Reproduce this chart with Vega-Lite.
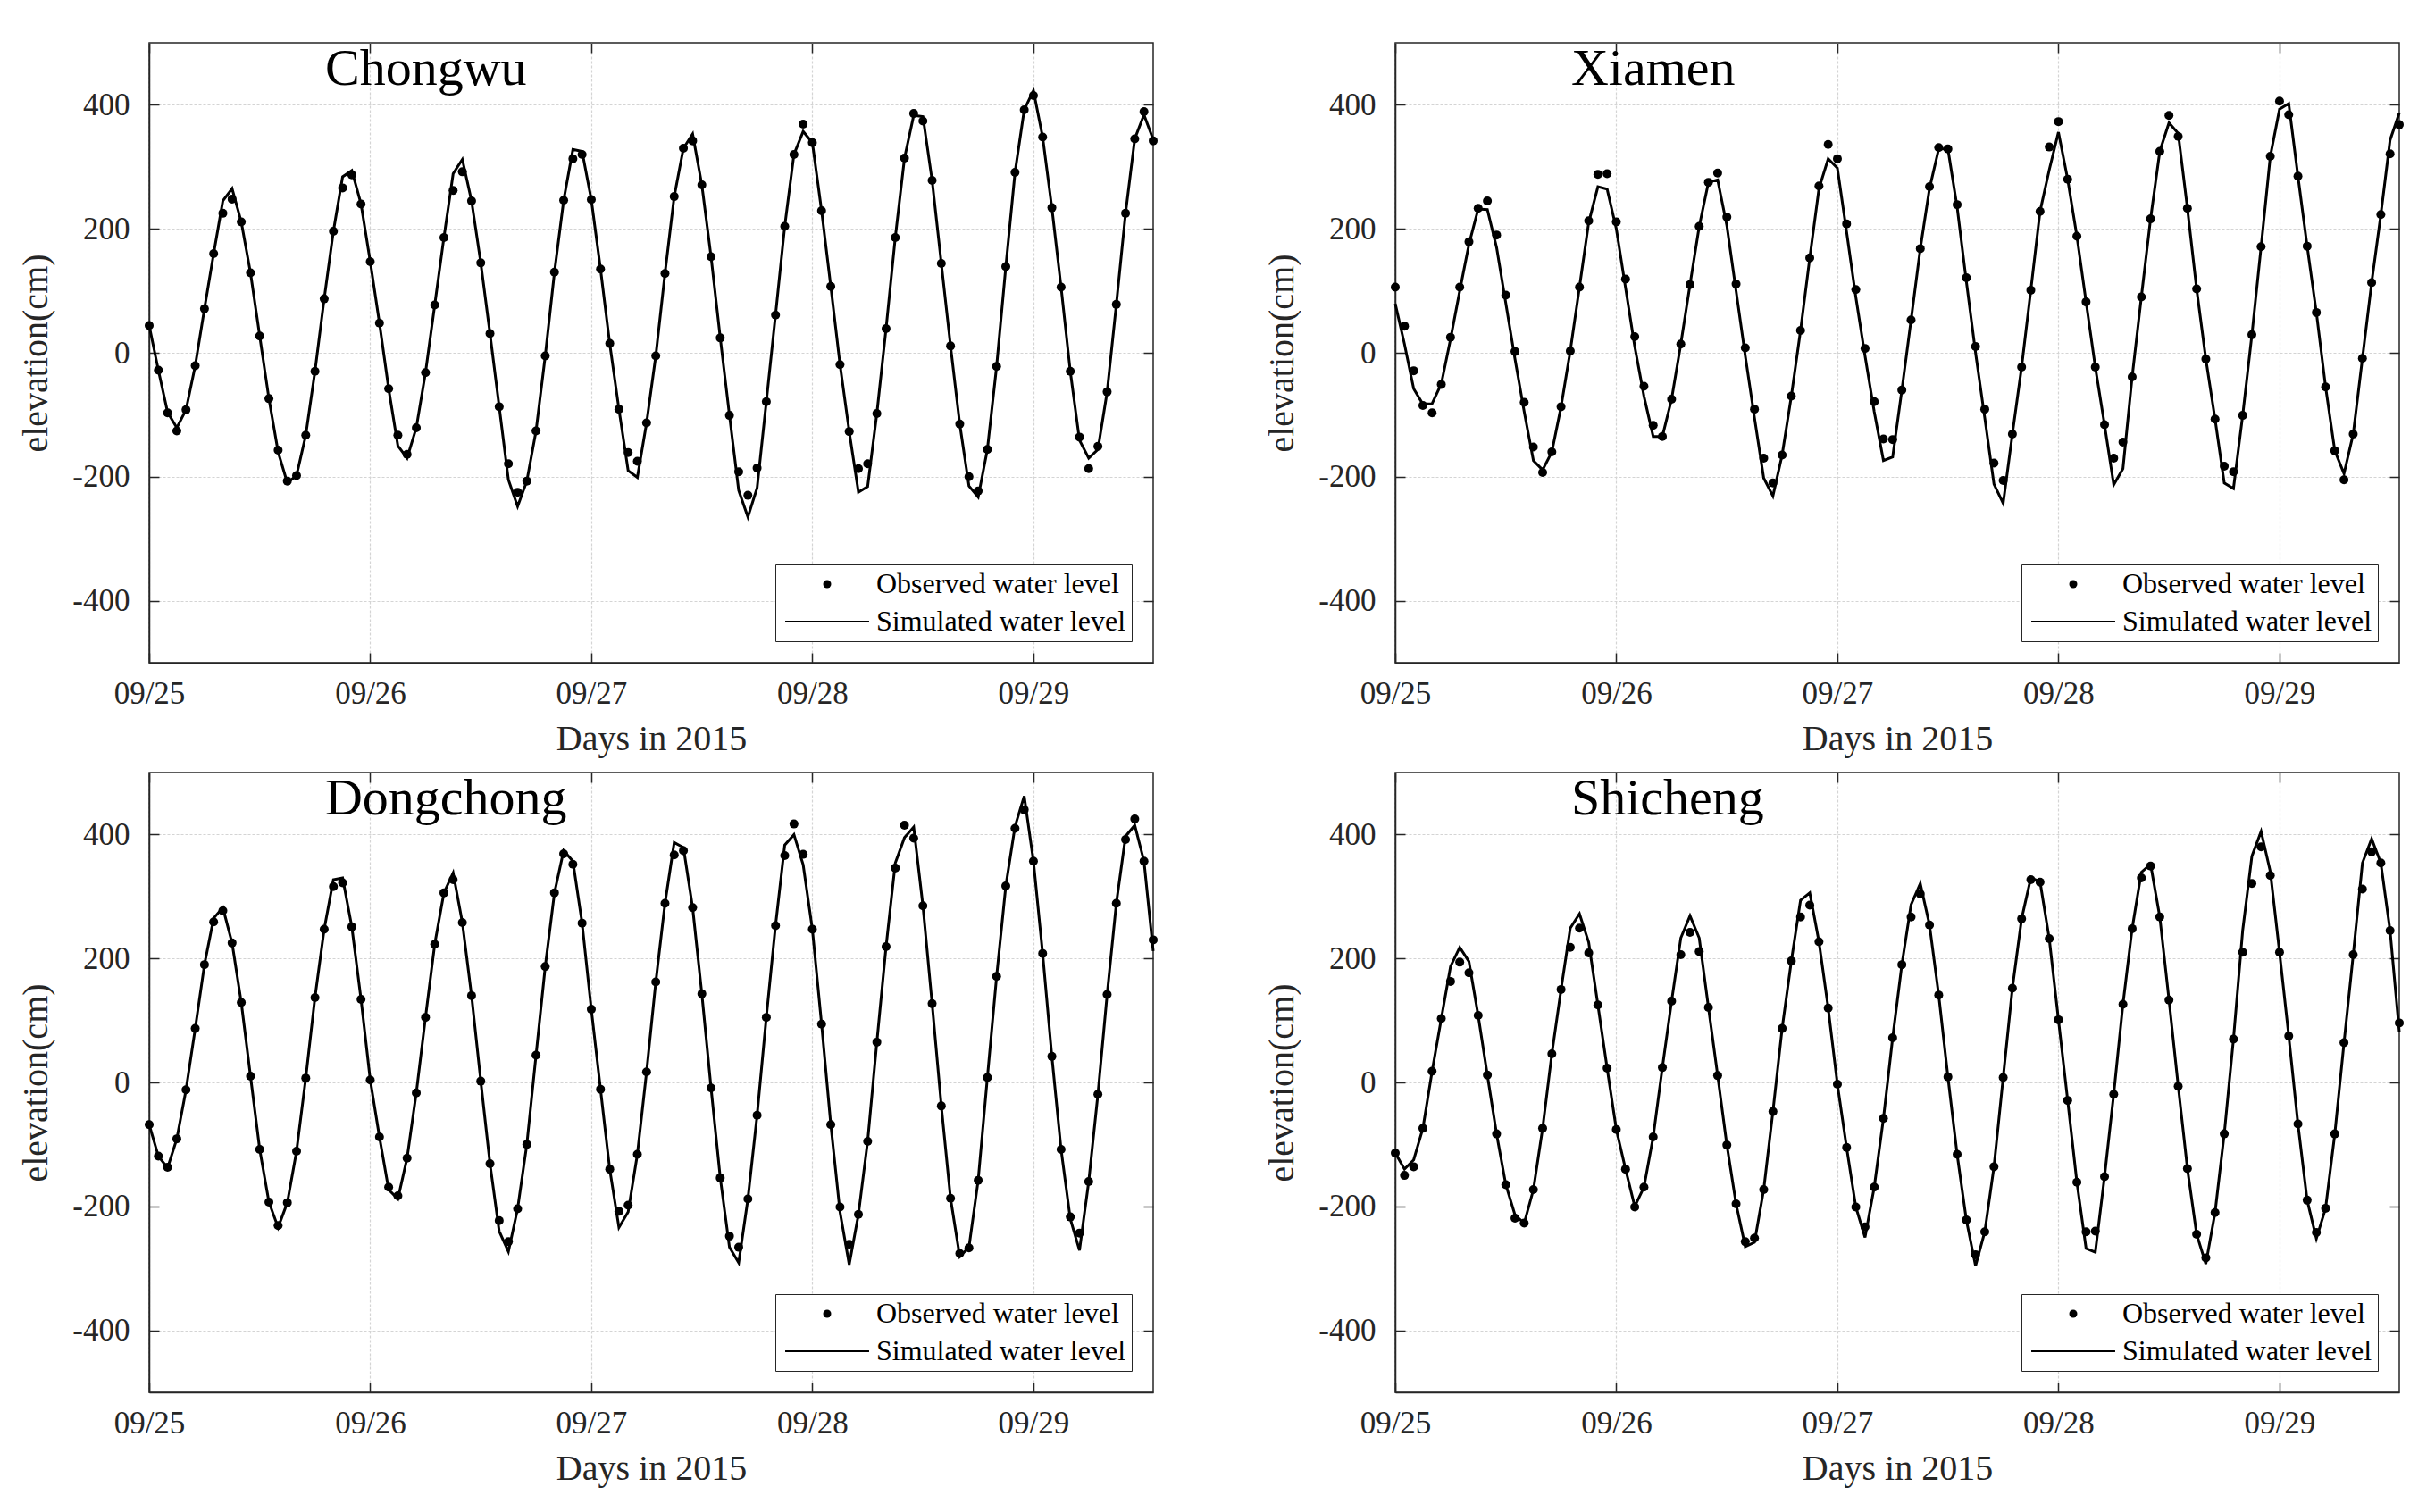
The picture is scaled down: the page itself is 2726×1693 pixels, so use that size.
{
"$schema":"https://vega.github.io/schema/vega-lite/v6.json",
"autosize":{"type":"pad"},
"padding":{"left":20,"top":46,"right":5,"bottom":5},
"background":"white",
"columns":2,
"spacing":{"row":123,"column":271},
"bounds":"flush",
"resolve":{"scale":{"shape":"independent"},"legend":{"shape":"independent"}},
"datasets":{
"Chongwu":[
{"t":"2015-09-25T00","o":44,"m":44},{"t":"2015-09-25T01","o":-28,"m":-28},{"t":"2015-09-25T02","o":-97,"m":-96},{"t":"2015-09-25T03","o":-126,"m":-121},{"t":"2015-09-25T04","o":-92,"m":-92},{"t":"2015-09-25T05","o":-21,"m":-21},{"t":"2015-09-25T06","o":71,"m":71},{"t":"2015-09-25T07","o":160,"m":160},{"t":"2015-09-25T08","o":225,"m":245},{"t":"2015-09-25T09","o":248,"m":265},{"t":"2015-09-25T10","o":211,"m":211},{"t":"2015-09-25T11","o":129,"m":129},{"t":"2015-09-25T12","o":27,"m":27},{"t":"2015-09-25T13","o":-74,"m":-74},{"t":"2015-09-25T14","o":-157,"m":-160},{"t":"2015-09-25T15","o":-207,"m":-210},{"t":"2015-09-25T16","o":-198,"m":-198},{"t":"2015-09-25T17","o":-133,"m":-133},{"t":"2015-09-25T18","o":-30,"m":-30},{"t":"2015-09-25T19","o":87,"m":87},{"t":"2015-09-25T20","o":196,"m":196},{"t":"2015-09-25T21","o":266,"m":284},{"t":"2015-09-25T22","o":287,"m":294},{"t":"2015-09-25T23","o":240,"m":240},
{"t":"2015-09-26T00","o":147,"m":147},{"t":"2015-09-26T01","o":48,"m":48},{"t":"2015-09-26T02","o":-58,"m":-58},{"t":"2015-09-26T03","o":-133,"m":-150},{"t":"2015-09-26T04","o":-164,"m":-170},{"t":"2015-09-26T05","o":-121,"m":-121},{"t":"2015-09-26T06","o":-32,"m":-32},{"t":"2015-09-26T07","o":77,"m":77},{"t":"2015-09-26T08","o":186,"m":186},{"t":"2015-09-26T09","o":262,"m":289},{"t":"2015-09-26T10","o":292,"m":312},{"t":"2015-09-26T11","o":245,"m":245},{"t":"2015-09-26T12","o":145,"m":145},{"t":"2015-09-26T13","o":31,"m":31},{"t":"2015-09-26T14","o":-87,"m":-87},{"t":"2015-09-26T15","o":-179,"m":-205},{"t":"2015-09-26T16","o":-225,"m":-248},{"t":"2015-09-26T17","o":-207,"m":-207},{"t":"2015-09-26T18","o":-126,"m":-126},{"t":"2015-09-26T19","o":-5,"m":-5},{"t":"2015-09-26T20","o":130,"m":130},{"t":"2015-09-26T21","o":246,"m":246},{"t":"2015-09-26T22","o":313,"m":328},{"t":"2015-09-26T23","o":320,"m":325},
{"t":"2015-09-27T00","o":247,"m":247},{"t":"2015-09-27T01","o":135,"m":135},{"t":"2015-09-27T02","o":15,"m":15},{"t":"2015-09-27T03","o":-91,"m":-91},{"t":"2015-09-27T04","o":-161,"m":-190},{"t":"2015-09-27T05","o":-175,"m":-201},{"t":"2015-09-27T06","o":-113,"m":-113},{"t":"2015-09-27T07","o":-5,"m":-5},{"t":"2015-09-27T08","o":128,"m":128},{"t":"2015-09-27T09","o":252,"m":252},{"t":"2015-09-27T10","o":330,"m":330},{"t":"2015-09-27T11","o":342,"m":353},{"t":"2015-09-27T12","o":271,"m":271},{"t":"2015-09-27T13","o":155,"m":155},{"t":"2015-09-27T14","o":24,"m":24},{"t":"2015-09-27T15","o":-101,"m":-101},{"t":"2015-09-27T16","o":-192,"m":-222},{"t":"2015-09-27T17","o":-230,"m":-265},{"t":"2015-09-27T18","o":-186,"m":-218},{"t":"2015-09-27T19","o":-79,"m":-79},{"t":"2015-09-27T20","o":61,"m":61},{"t":"2015-09-27T21","o":204,"m":204},{"t":"2015-09-27T22","o":320,"m":320},{"t":"2015-09-27T23","o":369,"m":357},
{"t":"2015-09-28T00","o":339,"m":339},{"t":"2015-09-28T01","o":229,"m":229},{"t":"2015-09-28T02","o":107,"m":107},{"t":"2015-09-28T03","o":-19,"m":-19},{"t":"2015-09-28T04","o":-127,"m":-127},{"t":"2015-09-28T05","o":-187,"m":-225},{"t":"2015-09-28T06","o":-179,"m":-216},{"t":"2015-09-28T07","o":-98,"m":-98},{"t":"2015-09-28T08","o":39,"m":39},{"t":"2015-09-28T09","o":186,"m":186},{"t":"2015-09-28T10","o":314,"m":314},{"t":"2015-09-28T11","o":386,"m":383},{"t":"2015-09-28T12","o":374,"m":381},{"t":"2015-09-28T13","o":278,"m":278},{"t":"2015-09-28T14","o":144,"m":144},{"t":"2015-09-28T15","o":11,"m":11},{"t":"2015-09-28T16","o":-115,"m":-115},{"t":"2015-09-28T17","o":-200,"m":-215},{"t":"2015-09-28T18","o":-223,"m":-233},{"t":"2015-09-28T19","o":-156,"m":-156},{"t":"2015-09-28T20","o":-22,"m":-22},{"t":"2015-09-28T21","o":139,"m":139},{"t":"2015-09-28T22","o":291,"m":291},{"t":"2015-09-28T23","o":392,"m":392},
{"t":"2015-09-29T00","o":415,"m":423},{"t":"2015-09-29T01","o":348,"m":348},{"t":"2015-09-29T02","o":234,"m":234},{"t":"2015-09-29T03","o":106,"m":106},{"t":"2015-09-29T04","o":-30,"m":-30},{"t":"2015-09-29T05","o":-136,"m":-141},{"t":"2015-09-29T06","o":-187,"m":-170},{"t":"2015-09-29T07","o":-151,"m":-156},{"t":"2015-09-29T08","o":-63,"m":-63},{"t":"2015-09-29T09","o":78,"m":78},{"t":"2015-09-29T10","o":225,"m":225},{"t":"2015-09-29T11","o":345,"m":345},{"t":"2015-09-29T12","o":389,"m":384},{"t":"2015-09-29T13","o":342,"m":344}
],
"Xiamen":[
{"t":"2015-09-25T00","o":106,"m":79},{"t":"2015-09-25T01","o":43,"m":14},{"t":"2015-09-25T02","o":-29,"m":-58},{"t":"2015-09-25T03","o":-85,"m":-83},{"t":"2015-09-25T04","o":-97,"m":-82},{"t":"2015-09-25T05","o":-51,"m":-50},{"t":"2015-09-25T06","o":25,"m":22},{"t":"2015-09-25T07","o":106,"m":100},{"t":"2015-09-25T08","o":179,"m":175},{"t":"2015-09-25T09","o":233,"m":232},{"t":"2015-09-25T10","o":245,"m":231},{"t":"2015-09-25T11","o":190,"m":170},{"t":"2015-09-25T12","o":93,"m":80},{"t":"2015-09-25T13","o":2,"m":-10},{"t":"2015-09-25T14","o":-80,"m":-95},{"t":"2015-09-25T15","o":-152,"m":-174},{"t":"2015-09-25T16","o":-193,"m":-189},{"t":"2015-09-25T17","o":-160,"m":-160},{"t":"2015-09-25T18","o":-87,"m":-87},{"t":"2015-09-25T19","o":3,"m":3},{"t":"2015-09-25T20","o":106,"m":106},{"t":"2015-09-25T21","o":213,"m":210},{"t":"2015-09-25T22","o":288,"m":268},{"t":"2015-09-25T23","o":289,"m":264},
{"t":"2015-09-26T00","o":211,"m":200},{"t":"2015-09-26T01","o":119,"m":105},{"t":"2015-09-26T02","o":26,"m":10},{"t":"2015-09-26T03","o":-54,"m":-70},{"t":"2015-09-26T04","o":-117,"m":-135},{"t":"2015-09-26T05","o":-135,"m":-135},{"t":"2015-09-26T06","o":-75,"m":-75},{"t":"2015-09-26T07","o":14,"m":14},{"t":"2015-09-26T08","o":110,"m":110},{"t":"2015-09-26T09","o":204,"m":204},{"t":"2015-09-26T10","o":275,"m":275},{"t":"2015-09-26T11","o":290,"m":279},{"t":"2015-09-26T12","o":219,"m":205},{"t":"2015-09-26T13","o":111,"m":100},{"t":"2015-09-26T14","o":8,"m":-5},{"t":"2015-09-26T15","o":-91,"m":-105},{"t":"2015-09-26T16","o":-170,"m":-202},{"t":"2015-09-26T17","o":-210,"m":-231},{"t":"2015-09-26T18","o":-165,"m":-165},{"t":"2015-09-26T19","o":-70,"m":-70},{"t":"2015-09-26T20","o":36,"m":36},{"t":"2015-09-26T21","o":153,"m":153},{"t":"2015-09-26T22","o":269,"m":265},{"t":"2015-09-26T23","o":336,"m":313},
{"t":"2015-09-27T00","o":313,"m":298},{"t":"2015-09-27T01","o":208,"m":195},{"t":"2015-09-27T02","o":102,"m":90},{"t":"2015-09-27T03","o":7,"m":-5},{"t":"2015-09-27T04","o":-79,"m":-95},{"t":"2015-09-27T05","o":-139,"m":-174},{"t":"2015-09-27T06","o":-140,"m":-168},{"t":"2015-09-27T07","o":-60,"m":-60},{"t":"2015-09-27T08","o":53,"m":53},{"t":"2015-09-27T09","o":168,"m":168},{"t":"2015-09-27T10","o":268,"m":265},{"t":"2015-09-27T11","o":331,"m":329},{"t":"2015-09-27T12","o":329,"m":329},{"t":"2015-09-27T13","o":239,"m":235},{"t":"2015-09-27T14","o":121,"m":115},{"t":"2015-09-27T15","o":10,"m":0},{"t":"2015-09-27T16","o":-91,"m":-105},{"t":"2015-09-27T17","o":-178,"m":-212},{"t":"2015-09-27T18","o":-206,"m":-243},{"t":"2015-09-27T19","o":-131,"m":-131},{"t":"2015-09-27T20","o":-23,"m":-23},{"t":"2015-09-27T21","o":101,"m":101},{"t":"2015-09-27T22","o":228,"m":228},{"t":"2015-09-27T23","o":332,"m":295},
{"t":"2015-09-28T00","o":373,"m":356},{"t":"2015-09-28T01","o":280,"m":280},{"t":"2015-09-28T02","o":188,"m":188},{"t":"2015-09-28T03","o":82,"m":82},{"t":"2015-09-28T04","o":-23,"m":-23},{"t":"2015-09-28T05","o":-116,"m":-116},{"t":"2015-09-28T06","o":-170,"m":-213},{"t":"2015-09-28T07","o":-144,"m":-187},{"t":"2015-09-28T08","o":-39,"m":-39},{"t":"2015-09-28T09","o":90,"m":90},{"t":"2015-09-28T10","o":216,"m":216},{"t":"2015-09-28T11","o":325,"m":325},{"t":"2015-09-28T12","o":383,"m":371},{"t":"2015-09-28T13","o":349,"m":354},{"t":"2015-09-28T14","o":233,"m":233},{"t":"2015-09-28T15","o":103,"m":103},{"t":"2015-09-28T16","o":-10,"m":-10},{"t":"2015-09-28T17","o":-107,"m":-107},{"t":"2015-09-28T18","o":-183,"m":-210},{"t":"2015-09-28T19","o":-192,"m":-219},{"t":"2015-09-28T20","o":-101,"m":-101},{"t":"2015-09-28T21","o":29,"m":29},{"t":"2015-09-28T22","o":171,"m":171},{"t":"2015-09-28T23","o":317,"m":317},
{"t":"2015-09-29T00","o":406,"m":393},{"t":"2015-09-29T01","o":384,"m":402},{"t":"2015-09-29T02","o":285,"m":285},{"t":"2015-09-29T03","o":172,"m":172},{"t":"2015-09-29T04","o":65,"m":65},{"t":"2015-09-29T05","o":-55,"m":-55},{"t":"2015-09-29T06","o":-158,"m":-158},{"t":"2015-09-29T07","o":-205,"m":-195},{"t":"2015-09-29T08","o":-131,"m":-131},{"t":"2015-09-29T09","o":-9,"m":-9},{"t":"2015-09-29T10","o":113,"m":113},{"t":"2015-09-29T11","o":223,"m":223},{"t":"2015-09-29T12","o":321,"m":343},{"t":"2015-09-29T13","o":368,"m":387}
],
"Dongchong":[
{"t":"2015-09-25T00","o":-68,"m":-68},{"t":"2015-09-25T01","o":-119,"m":-119},{"t":"2015-09-25T02","o":-137,"m":-138},{"t":"2015-09-25T03","o":-91,"m":-91},{"t":"2015-09-25T04","o":-12,"m":-12},{"t":"2015-09-25T05","o":87,"m":87},{"t":"2015-09-25T06","o":190,"m":190},{"t":"2015-09-25T07","o":259,"m":265},{"t":"2015-09-25T08","o":277,"m":282},{"t":"2015-09-25T09","o":225,"m":225},{"t":"2015-09-25T10","o":129,"m":129},{"t":"2015-09-25T11","o":10,"m":10},{"t":"2015-09-25T12","o":-108,"m":-108},{"t":"2015-09-25T13","o":-193,"m":-193},{"t":"2015-09-25T14","o":-231,"m":-234},{"t":"2015-09-25T15","o":-194,"m":-194},{"t":"2015-09-25T16","o":-111,"m":-111},{"t":"2015-09-25T17","o":7,"m":7},{"t":"2015-09-25T18","o":137,"m":137},{"t":"2015-09-25T19","o":247,"m":247},{"t":"2015-09-25T20","o":316,"m":327},{"t":"2015-09-25T21","o":322,"m":330},{"t":"2015-09-25T22","o":251,"m":251},{"t":"2015-09-25T23","o":134,"m":134},
{"t":"2015-09-26T00","o":4,"m":4},{"t":"2015-09-26T01","o":-88,"m":-88},{"t":"2015-09-26T02","o":-169,"m":-173},{"t":"2015-09-26T03","o":-183,"m":-188},{"t":"2015-09-26T04","o":-122,"m":-122},{"t":"2015-09-26T05","o":-17,"m":-17},{"t":"2015-09-26T06","o":105,"m":105},{"t":"2015-09-26T07","o":223,"m":223},{"t":"2015-09-26T08","o":306,"m":306},{"t":"2015-09-26T09","o":327,"m":338},{"t":"2015-09-26T10","o":258,"m":258},{"t":"2015-09-26T11","o":140,"m":140},{"t":"2015-09-26T12","o":2,"m":2},{"t":"2015-09-26T13","o":-131,"m":-131},{"t":"2015-09-26T14","o":-223,"m":-240},{"t":"2015-09-26T15","o":-257,"m":-273},{"t":"2015-09-26T16","o":-204,"m":-204},{"t":"2015-09-26T17","o":-100,"m":-100},{"t":"2015-09-26T18","o":44,"m":44},{"t":"2015-09-26T19","o":187,"m":187},{"t":"2015-09-26T20","o":306,"m":306},{"t":"2015-09-26T21","o":369,"m":374},{"t":"2015-09-26T22","o":352,"m":357},{"t":"2015-09-26T23","o":257,"m":257},
{"t":"2015-09-27T00","o":118,"m":118},{"t":"2015-09-27T01","o":-11,"m":-11},{"t":"2015-09-27T02","o":-140,"m":-140},{"t":"2015-09-27T03","o":-208,"m":-234},{"t":"2015-09-27T04","o":-198,"m":-209},{"t":"2015-09-27T05","o":-116,"m":-116},{"t":"2015-09-27T06","o":17,"m":17},{"t":"2015-09-27T07","o":162,"m":162},{"t":"2015-09-27T08","o":289,"m":289},{"t":"2015-09-27T09","o":367,"m":387},{"t":"2015-09-27T10","o":374,"m":379},{"t":"2015-09-27T11","o":282,"m":282},{"t":"2015-09-27T12","o":143,"m":143},{"t":"2015-09-27T13","o":-9,"m":-9},{"t":"2015-09-27T14","o":-154,"m":-154},{"t":"2015-09-27T15","o":-248,"m":-266},{"t":"2015-09-27T16","o":-266,"m":-291},{"t":"2015-09-27T17","o":-188,"m":-188},{"t":"2015-09-27T18","o":-53,"m":-53},{"t":"2015-09-27T19","o":105,"m":105},{"t":"2015-09-27T20","o":253,"m":253},{"t":"2015-09-27T21","o":366,"m":383},{"t":"2015-09-27T22","o":417,"m":400},{"t":"2015-09-27T23","o":368,"m":351},
{"t":"2015-09-28T00","o":247,"m":247},{"t":"2015-09-28T01","o":94,"m":94},{"t":"2015-09-28T02","o":-68,"m":-68},{"t":"2015-09-28T03","o":-201,"m":-209},{"t":"2015-09-28T04","o":-261,"m":-294},{"t":"2015-09-28T05","o":-213,"m":-213},{"t":"2015-09-28T06","o":-95,"m":-95},{"t":"2015-09-28T07","o":65,"m":65},{"t":"2015-09-28T08","o":219,"m":219},{"t":"2015-09-28T09","o":346,"m":354},{"t":"2015-09-28T10","o":415,"m":395},{"t":"2015-09-28T11","o":394,"m":412},{"t":"2015-09-28T12","o":285,"m":285},{"t":"2015-09-28T13","o":127,"m":127},{"t":"2015-09-28T14","o":-38,"m":-38},{"t":"2015-09-28T15","o":-187,"m":-187},{"t":"2015-09-28T16","o":-276,"m":-281},{"t":"2015-09-28T17","o":-267,"m":-266},{"t":"2015-09-28T18","o":-158,"m":-158},{"t":"2015-09-28T19","o":8,"m":8},{"t":"2015-09-28T20","o":171,"m":171},{"t":"2015-09-28T21","o":317,"m":317},{"t":"2015-09-28T22","o":410,"m":413},{"t":"2015-09-28T23","o":440,"m":462},
{"t":"2015-09-29T00","o":357,"m":357},{"t":"2015-09-29T01","o":208,"m":208},{"t":"2015-09-29T02","o":42,"m":42},{"t":"2015-09-29T03","o":-108,"m":-108},{"t":"2015-09-29T04","o":-217,"m":-220},{"t":"2015-09-29T05","o":-243,"m":-271},{"t":"2015-09-29T06","o":-160,"m":-160},{"t":"2015-09-29T07","o":-19,"m":-19},{"t":"2015-09-29T08","o":142,"m":142},{"t":"2015-09-29T09","o":289,"m":289},{"t":"2015-09-29T10","o":392,"m":397},{"t":"2015-09-29T11","o":425,"m":415},{"t":"2015-09-29T12","o":357,"m":357},{"t":"2015-09-29T13","o":230,"m":212}
],
"Shicheng":[
{"t":"2015-09-25T00","o":-114,"m":-114},{"t":"2015-09-25T01","o":-150,"m":-140},{"t":"2015-09-25T02","o":-136,"m":-125},{"t":"2015-09-25T03","o":-74,"m":-74},{"t":"2015-09-25T04","o":18,"m":18},{"t":"2015-09-25T05","o":103,"m":103},{"t":"2015-09-25T06","o":163,"m":187},{"t":"2015-09-25T07","o":194,"m":218},{"t":"2015-09-25T08","o":177,"m":195},{"t":"2015-09-25T09","o":108,"m":108},{"t":"2015-09-25T10","o":12,"m":12},{"t":"2015-09-25T11","o":-83,"m":-83},{"t":"2015-09-25T12","o":-165,"m":-165},{"t":"2015-09-25T13","o":-219,"m":-214},{"t":"2015-09-25T14","o":-227,"m":-227},{"t":"2015-09-25T15","o":-173,"m":-173},{"t":"2015-09-25T16","o":-74,"m":-74},{"t":"2015-09-25T17","o":46,"m":46},{"t":"2015-09-25T18","o":150,"m":150},{"t":"2015-09-25T19","o":218,"m":249},{"t":"2015-09-25T20","o":249,"m":272},{"t":"2015-09-25T21","o":209,"m":226},{"t":"2015-09-25T22","o":125,"m":125},{"t":"2015-09-25T23","o":23,"m":23},
{"t":"2015-09-26T00","o":-76,"m":-76},{"t":"2015-09-26T01","o":-140,"m":-140},{"t":"2015-09-26T02","o":-201,"m":-200},{"t":"2015-09-26T03","o":-169,"m":-169},{"t":"2015-09-26T04","o":-88,"m":-88},{"t":"2015-09-26T05","o":24,"m":24},{"t":"2015-09-26T06","o":131,"m":131},{"t":"2015-09-26T07","o":206,"m":233},{"t":"2015-09-26T08","o":242,"m":269},{"t":"2015-09-26T09","o":211,"m":233},{"t":"2015-09-26T10","o":121,"m":121},{"t":"2015-09-26T11","o":11,"m":11},{"t":"2015-09-26T12","o":-101,"m":-101},{"t":"2015-09-26T13","o":-196,"m":-196},{"t":"2015-09-26T14","o":-257,"m":-265},{"t":"2015-09-26T15","o":-251,"m":-258},{"t":"2015-09-26T16","o":-173,"m":-173},{"t":"2015-09-26T17","o":-47,"m":-47},{"t":"2015-09-26T18","o":87,"m":87},{"t":"2015-09-26T19","o":196,"m":196},{"t":"2015-09-26T20","o":267,"m":294},{"t":"2015-09-26T21","o":286,"m":306},{"t":"2015-09-26T22","o":227,"m":227},{"t":"2015-09-26T23","o":120,"m":120},
{"t":"2015-09-27T00","o":-3,"m":-3},{"t":"2015-09-27T01","o":-105,"m":-105},{"t":"2015-09-27T02","o":-201,"m":-201},{"t":"2015-09-27T03","o":-233,"m":-250},{"t":"2015-09-27T04","o":-169,"m":-169},{"t":"2015-09-27T05","o":-58,"m":-58},{"t":"2015-09-27T06","o":72,"m":72},{"t":"2015-09-27T07","o":190,"m":190},{"t":"2015-09-27T08","o":267,"m":287},{"t":"2015-09-27T09","o":304,"m":321},{"t":"2015-09-27T10","o":254,"m":254},{"t":"2015-09-27T11","o":141,"m":141},{"t":"2015-09-27T12","o":9,"m":9},{"t":"2015-09-27T13","o":-116,"m":-116},{"t":"2015-09-27T14","o":-222,"m":-222},{"t":"2015-09-27T15","o":-278,"m":-296},{"t":"2015-09-27T16","o":-241,"m":-241},{"t":"2015-09-27T17","o":-136,"m":-136},{"t":"2015-09-27T18","o":8,"m":8},{"t":"2015-09-27T19","o":152,"m":152},{"t":"2015-09-27T20","o":264,"m":264},{"t":"2015-09-27T21","o":327,"m":330},{"t":"2015-09-27T22","o":323,"m":324},{"t":"2015-09-27T23","o":232,"m":232},
{"t":"2015-09-28T00","o":101,"m":101},{"t":"2015-09-28T01","o":-29,"m":-29},{"t":"2015-09-28T02","o":-161,"m":-161},{"t":"2015-09-28T03","o":-241,"m":-268},{"t":"2015-09-28T04","o":-240,"m":-274},{"t":"2015-09-28T05","o":-152,"m":-152},{"t":"2015-09-28T06","o":-19,"m":-19},{"t":"2015-09-28T07","o":126,"m":126},{"t":"2015-09-28T08","o":248,"m":248},{"t":"2015-09-28T09","o":330,"m":339},{"t":"2015-09-28T10","o":349,"m":352},{"t":"2015-09-28T11","o":267,"m":267},{"t":"2015-09-28T12","o":133,"m":133},{"t":"2015-09-28T13","o":-6,"m":-6},{"t":"2015-09-28T14","o":-139,"m":-139},{"t":"2015-09-28T15","o":-245,"m":-245},{"t":"2015-09-28T16","o":-283,"m":-293},{"t":"2015-09-28T17","o":-210,"m":-210},{"t":"2015-09-28T18","o":-83,"m":-83},{"t":"2015-09-28T19","o":70,"m":70},{"t":"2015-09-28T20","o":210,"m":245},{"t":"2015-09-28T21","o":321,"m":365},{"t":"2015-09-28T22","o":380,"m":405},{"t":"2015-09-28T23","o":334,"m":340},
{"t":"2015-09-29T00","o":210,"m":210},{"t":"2015-09-29T01","o":75,"m":75},{"t":"2015-09-29T02","o":-67,"m":-67},{"t":"2015-09-29T03","o":-190,"m":-190},{"t":"2015-09-29T04","o":-242,"m":-252},{"t":"2015-09-29T05","o":-203,"m":-203},{"t":"2015-09-29T06","o":-83,"m":-83},{"t":"2015-09-29T07","o":64,"m":64},{"t":"2015-09-29T08","o":206,"m":206},{"t":"2015-09-29T09","o":312,"m":354},{"t":"2015-09-29T10","o":372,"m":393},{"t":"2015-09-29T11","o":354,"m":354},{"t":"2015-09-29T12","o":245,"m":245},{"t":"2015-09-29T13","o":96,"m":82}
]
},
"concat":[
{"width":1124,"height":694,
 "data":{"name":"Chongwu","format":{"parse":{"t":"utc:'%Y-%m-%dT%H'"}}},
 "resolve":{"axis":{"x":"independent","y":"independent"}},
 "layer":[
  {"mark":{"type":"line","color":"black","strokeWidth":3},
   "encoding":{
    "x":{"field":"t","type":"temporal","scale":{"type":"utc","domain":[{"year":2015,"month":9,"date":25,"utc":true},{"year":2015,"month":9,"date":29,"hours":13,"utc":true}]},
      "axis":{"title":"Days in 2015","format":"%m/%d","values":[{"year":2015,"month":9,"date":25,"utc":true},{"year":2015,"month":9,"date":26,"utc":true},{"year":2015,"month":9,"date":27,"utc":true},{"year":2015,"month":9,"date":28,"utc":true},{"year":2015,"month":9,"date":29,"utc":true}],"labelPadding":28,"titlePadding":13,"labelFlush":false}},
    "y":{"field":"m","type":"quantitative","scale":{"domain":[-500,500],"nice":false},"axis":{"title":"elevation(cm)","values":[-400,-200,0,200,400],"labelPadding":33,"titlePadding":20,"labelExpr":"datum.value < 0 ? '-' + abs(datum.value) : '' + datum.value"}}}},
  {"mark":{"type":"point","filled":true,"color":"black","size":100,"opacity":1},
   "encoding":{
    "x":{"field":"t","type":"temporal","axis":{"orient":"top","labels":false,"title":null,"grid":false,"domain":false,"values":[{"year":2015,"month":9,"date":25,"utc":true},{"year":2015,"month":9,"date":26,"utc":true},{"year":2015,"month":9,"date":27,"utc":true},{"year":2015,"month":9,"date":28,"utc":true},{"year":2015,"month":9,"date":29,"utc":true}]}},
    "y":{"field":"o","type":"quantitative","axis":{"orient":"right","labels":false,"title":null,"grid":false,"domain":false,"values":[-400,-200,0,200,400]}},
    "shape":{"datum":"Observed water level","type":"nominal","scale":{"domain":["Observed water level","Simulated water level"],"range":["circle","M-10.44,-0.24H10.44V0.24H-10.44Z"]},
      "legend":{"title":null,"orient":"bottom-right","offset":24,"padding":6,"fillColor":"white","strokeColor":"#262626","labelFontSize":32,"labelColor":"black","labelFont":"Liberation Serif","labelLimit":0,"symbolSize":81,"symbolFillColor":"black","symbolOffset":36,"labelOffset":39,"rowPadding":10,
       "encode":{"legend":{"strokeWidth":{"value":1.5}}}}}}},
  {"data":{"values":[{"station":"Chongwu"}]},
   "mark":{"type":"text","align":"left","baseline":"alphabetic","fontSize":58,"color":"black","font":"Liberation Serif"},
   "encoding":{"x":{"datum":{"year":2015,"month":9,"date":25,"hours":19,"minutes":6,"utc":true},"type":"temporal","axis":null},"y":{"datum":432,"type":"quantitative","axis":null},"text":{"field":"station"}}}
 ]},
{"width":1124,"height":694,
 "data":{"name":"Xiamen","format":{"parse":{"t":"utc:'%Y-%m-%dT%H'"}}},
 "resolve":{"axis":{"x":"independent","y":"independent"}},
 "layer":[
  {"mark":{"type":"line","color":"black","strokeWidth":3},
   "encoding":{
    "x":{"field":"t","type":"temporal","scale":{"type":"utc","domain":[{"year":2015,"month":9,"date":25,"utc":true},{"year":2015,"month":9,"date":29,"hours":13,"utc":true}]},
      "axis":{"title":"Days in 2015","format":"%m/%d","values":[{"year":2015,"month":9,"date":25,"utc":true},{"year":2015,"month":9,"date":26,"utc":true},{"year":2015,"month":9,"date":27,"utc":true},{"year":2015,"month":9,"date":28,"utc":true},{"year":2015,"month":9,"date":29,"utc":true}],"labelPadding":28,"titlePadding":13,"labelFlush":false}},
    "y":{"field":"m","type":"quantitative","scale":{"domain":[-500,500],"nice":false},"axis":{"title":"elevation(cm)","values":[-400,-200,0,200,400],"labelPadding":33,"titlePadding":20,"labelExpr":"datum.value < 0 ? '-' + abs(datum.value) : '' + datum.value"}}}},
  {"mark":{"type":"point","filled":true,"color":"black","size":100,"opacity":1},
   "encoding":{
    "x":{"field":"t","type":"temporal","axis":{"orient":"top","labels":false,"title":null,"grid":false,"domain":false,"values":[{"year":2015,"month":9,"date":25,"utc":true},{"year":2015,"month":9,"date":26,"utc":true},{"year":2015,"month":9,"date":27,"utc":true},{"year":2015,"month":9,"date":28,"utc":true},{"year":2015,"month":9,"date":29,"utc":true}]}},
    "y":{"field":"o","type":"quantitative","axis":{"orient":"right","labels":false,"title":null,"grid":false,"domain":false,"values":[-400,-200,0,200,400]}},
    "shape":{"datum":"Observed water level","type":"nominal","scale":{"domain":["Observed water level","Simulated water level"],"range":["circle","M-10.44,-0.24H10.44V0.24H-10.44Z"]},
      "legend":{"title":null,"orient":"bottom-right","offset":24,"padding":6,"fillColor":"white","strokeColor":"#262626","labelFontSize":32,"labelColor":"black","labelFont":"Liberation Serif","labelLimit":0,"symbolSize":81,"symbolFillColor":"black","symbolOffset":36,"labelOffset":39,"rowPadding":10,
       "encode":{"legend":{"strokeWidth":{"value":1.5}}}}}}},
  {"data":{"values":[{"station":"Xiamen"}]},
   "mark":{"type":"text","align":"left","baseline":"alphabetic","fontSize":58,"color":"black","font":"Liberation Serif"},
   "encoding":{"x":{"datum":{"year":2015,"month":9,"date":25,"hours":19,"minutes":6,"utc":true},"type":"temporal","axis":null},"y":{"datum":432,"type":"quantitative","axis":null},"text":{"field":"station"}}}
 ]},
{"width":1124,"height":694,
 "data":{"name":"Dongchong","format":{"parse":{"t":"utc:'%Y-%m-%dT%H'"}}},
 "resolve":{"axis":{"x":"independent","y":"independent"}},
 "layer":[
  {"mark":{"type":"line","color":"black","strokeWidth":3},
   "encoding":{
    "x":{"field":"t","type":"temporal","scale":{"type":"utc","domain":[{"year":2015,"month":9,"date":25,"utc":true},{"year":2015,"month":9,"date":29,"hours":13,"utc":true}]},
      "axis":{"title":"Days in 2015","format":"%m/%d","values":[{"year":2015,"month":9,"date":25,"utc":true},{"year":2015,"month":9,"date":26,"utc":true},{"year":2015,"month":9,"date":27,"utc":true},{"year":2015,"month":9,"date":28,"utc":true},{"year":2015,"month":9,"date":29,"utc":true}],"labelPadding":28,"titlePadding":13,"labelFlush":false}},
    "y":{"field":"m","type":"quantitative","scale":{"domain":[-500,500],"nice":false},"axis":{"title":"elevation(cm)","values":[-400,-200,0,200,400],"labelPadding":33,"titlePadding":20,"labelExpr":"datum.value < 0 ? '-' + abs(datum.value) : '' + datum.value"}}}},
  {"mark":{"type":"point","filled":true,"color":"black","size":100,"opacity":1},
   "encoding":{
    "x":{"field":"t","type":"temporal","axis":{"orient":"top","labels":false,"title":null,"grid":false,"domain":false,"values":[{"year":2015,"month":9,"date":25,"utc":true},{"year":2015,"month":9,"date":26,"utc":true},{"year":2015,"month":9,"date":27,"utc":true},{"year":2015,"month":9,"date":28,"utc":true},{"year":2015,"month":9,"date":29,"utc":true}]}},
    "y":{"field":"o","type":"quantitative","axis":{"orient":"right","labels":false,"title":null,"grid":false,"domain":false,"values":[-400,-200,0,200,400]}},
    "shape":{"datum":"Observed water level","type":"nominal","scale":{"domain":["Observed water level","Simulated water level"],"range":["circle","M-10.44,-0.24H10.44V0.24H-10.44Z"]},
      "legend":{"title":null,"orient":"bottom-right","offset":24,"padding":6,"fillColor":"white","strokeColor":"#262626","labelFontSize":32,"labelColor":"black","labelFont":"Liberation Serif","labelLimit":0,"symbolSize":81,"symbolFillColor":"black","symbolOffset":36,"labelOffset":39,"rowPadding":10,
       "encode":{"legend":{"strokeWidth":{"value":1.5}}}}}}},
  {"data":{"values":[{"station":"Dongchong"}]},
   "mark":{"type":"text","align":"left","baseline":"alphabetic","fontSize":58,"color":"black","font":"Liberation Serif"},
   "encoding":{"x":{"datum":{"year":2015,"month":9,"date":25,"hours":19,"minutes":6,"utc":true},"type":"temporal","axis":null},"y":{"datum":432,"type":"quantitative","axis":null},"text":{"field":"station"}}}
 ]},
{"width":1124,"height":694,
 "data":{"name":"Shicheng","format":{"parse":{"t":"utc:'%Y-%m-%dT%H'"}}},
 "resolve":{"axis":{"x":"independent","y":"independent"}},
 "layer":[
  {"mark":{"type":"line","color":"black","strokeWidth":3},
   "encoding":{
    "x":{"field":"t","type":"temporal","scale":{"type":"utc","domain":[{"year":2015,"month":9,"date":25,"utc":true},{"year":2015,"month":9,"date":29,"hours":13,"utc":true}]},
      "axis":{"title":"Days in 2015","format":"%m/%d","values":[{"year":2015,"month":9,"date":25,"utc":true},{"year":2015,"month":9,"date":26,"utc":true},{"year":2015,"month":9,"date":27,"utc":true},{"year":2015,"month":9,"date":28,"utc":true},{"year":2015,"month":9,"date":29,"utc":true}],"labelPadding":28,"titlePadding":13,"labelFlush":false}},
    "y":{"field":"m","type":"quantitative","scale":{"domain":[-500,500],"nice":false},"axis":{"title":"elevation(cm)","values":[-400,-200,0,200,400],"labelPadding":33,"titlePadding":20,"labelExpr":"datum.value < 0 ? '-' + abs(datum.value) : '' + datum.value"}}}},
  {"mark":{"type":"point","filled":true,"color":"black","size":100,"opacity":1},
   "encoding":{
    "x":{"field":"t","type":"temporal","axis":{"orient":"top","labels":false,"title":null,"grid":false,"domain":false,"values":[{"year":2015,"month":9,"date":25,"utc":true},{"year":2015,"month":9,"date":26,"utc":true},{"year":2015,"month":9,"date":27,"utc":true},{"year":2015,"month":9,"date":28,"utc":true},{"year":2015,"month":9,"date":29,"utc":true}]}},
    "y":{"field":"o","type":"quantitative","axis":{"orient":"right","labels":false,"title":null,"grid":false,"domain":false,"values":[-400,-200,0,200,400]}},
    "shape":{"datum":"Observed water level","type":"nominal","scale":{"domain":["Observed water level","Simulated water level"],"range":["circle","M-10.44,-0.24H10.44V0.24H-10.44Z"]},
      "legend":{"title":null,"orient":"bottom-right","offset":24,"padding":6,"fillColor":"white","strokeColor":"#262626","labelFontSize":32,"labelColor":"black","labelFont":"Liberation Serif","labelLimit":0,"symbolSize":81,"symbolFillColor":"black","symbolOffset":36,"labelOffset":39,"rowPadding":10,
       "encode":{"legend":{"strokeWidth":{"value":1.5}}}}}}},
  {"data":{"values":[{"station":"Shicheng"}]},
   "mark":{"type":"text","align":"left","baseline":"alphabetic","fontSize":58,"color":"black","font":"Liberation Serif"},
   "encoding":{"x":{"datum":{"year":2015,"month":9,"date":25,"hours":19,"minutes":6,"utc":true},"type":"temporal","axis":null},"y":{"datum":432,"type":"quantitative","axis":null},"text":{"field":"station"}}}
 ]}
],
"config":{
 "font":"Liberation Serif",
 "view":{"stroke":"#262626","strokeWidth":1.5},
 "axis":{"labelFont":"Liberation Serif","labelFontSize":35,"labelColor":"#262626","titleFont":"Liberation Serif","titleFontSize":40,"titleFontWeight":"normal","titleColor":"#262626","domainColor":"#262626","domainWidth":1.5,"tickColor":"#262626","tickWidth":1.5,"tickSize":-11,"grid":true,"gridColor":"#d4d4d4","gridDash":[3,2],"gridWidth":1.2}
}
}
